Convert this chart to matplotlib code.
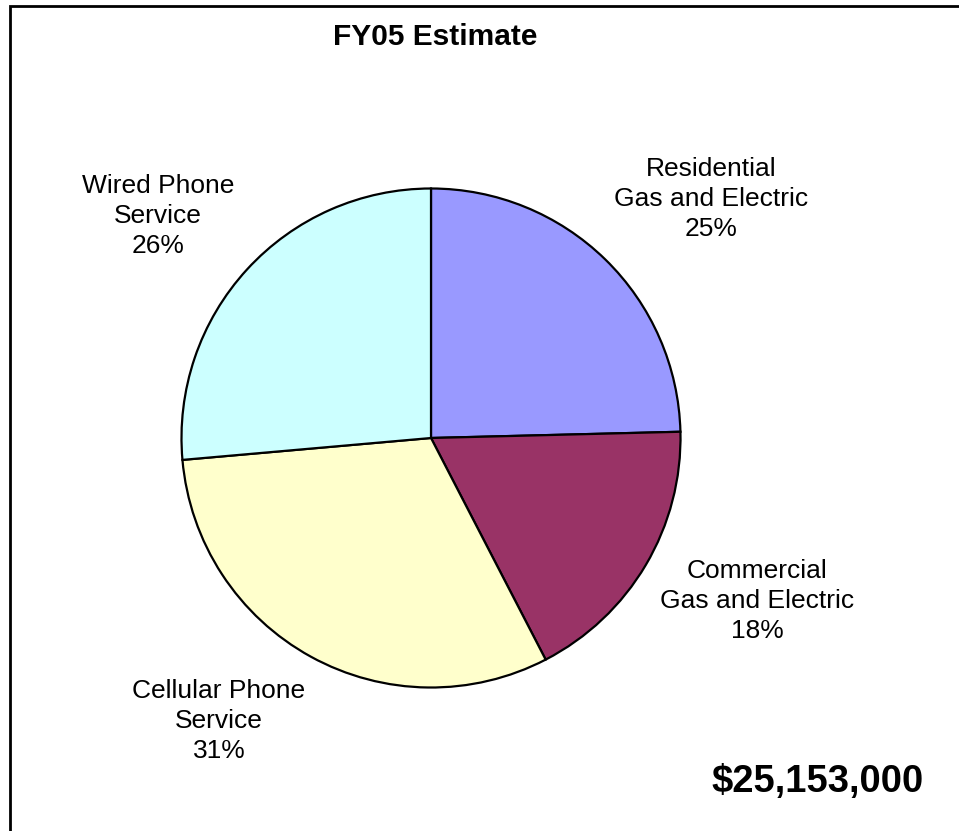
import matplotlib
matplotlib.use("Agg")
import matplotlib.pyplot as plt
from matplotlib.patches import Rectangle

plt.rcParams['font.family'] = ['Liberation Sans', 'DejaVu Sans']

# Valores do gráfico (em US$)
categorias = ['Residential\nGas and Electric', 'Commercial\nGas and Electric',
              'Cellular Phone\nService', 'Wired Phone\nService']
valores = [6188000, 4477000, 7848000, 6640000]
cores = ['#9999FF', '#993366', '#FFFFCC', '#CCFFFF']
titulo = 'FY05 Estimate'

# posições dos rótulos (pixels da figura: x, y a partir do topo)
posRotulos = [(711, 199), (757, 601), (219, 721), (158, 216)]

W, H = 959, 831
fig = plt.figure(figsize=(W / 100, H / 100), dpi=100)

# moldura da área do gráfico
fig.patches.append(Rectangle((10 / W, -0.1), 1.2, (H - 6) / H + 0.1,
                             transform=fig.transFigure, fill=False,
                             edgecolor='black', linewidth=2))

cx, cy, r = 431, 438, 252
ax = fig.add_axes([(cx - r) / W, (H - cy - r) / H, 2 * r / W, 2 * r / H])
ax.pie(valores, colors=cores, startangle=90, counterclock=False,
       wedgeprops={'edgecolor': 'black', 'linewidth': 1.6})
ax.set_xlim(-1.01, 1.01)
ax.set_ylim(-1.01, 1.01)
ax.set_aspect('equal')
ax.axis('off')

total = sum(valores)
for nome, valor, (px, py) in zip(categorias, valores, posRotulos):
    pct = valor / total * 100
    fig.text(px / W, 1 - py / H, f"{nome}\n{pct:.0f}%", ha='center', va='center',
             fontsize=19, linespacing=1.32)

fig.text(435 / W, 1 - 37 / H, titulo, ha='center', va='center',
         fontsize=21.5, fontweight='bold')
fig.text(818 / W, 1 - 782 / H, f"${total:,.0f}", ha='center', va='center',
         fontsize=27.5, fontweight='bold')

fig.savefig('out.png', dpi=100)
